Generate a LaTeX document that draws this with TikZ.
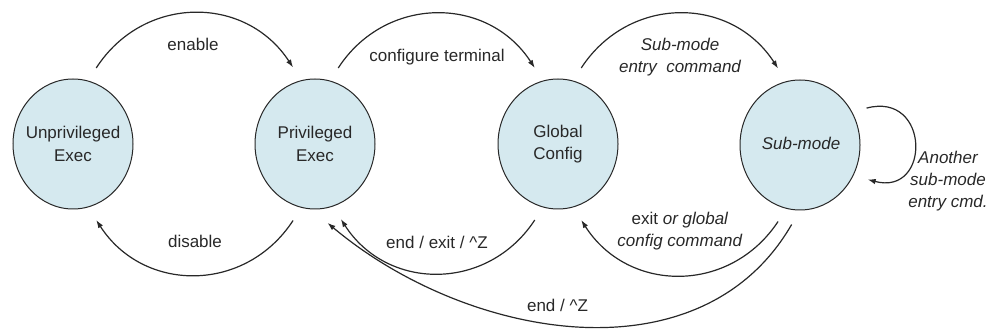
\documentclass[tikz,border=0pt]{standalone}
\usepackage{fontspec}
\setmainfont{Liberation Sans}
\usetikzlibrary{arrows.meta,shapes.geometric}
\definecolor{statefill}{RGB}{213,233,239}
\definecolor{ink}{RGB}{40,40,40}
\begin{document}
\begin{tikzpicture}[x=1pt,y=-1pt,
  state/.style={ellipse, draw=ink, line width=1pt, fill=statefill, minimum width=120pt, minimum height=130pt, inner sep=0pt, outer sep=15pt},
  stext/.style={align=center, font=\fontsize{17}{22.5}\selectfont, text=ink, inner sep=0pt},
  lbl/.style={align=center, font=\fontsize{17}{22}\selectfont, text=ink, inner sep=0pt},
  conn/.style={draw=ink, line width=1.2pt, -{Latex[length=8pt,width=5.5pt]}},
  shortarc/.style={bend left=57, looseness=1.13},
]
\useasboundingbox (0,0) rectangle (991,331);

% states
\node[state] (u) at (73,144) {};
\node[state] (p) at (315,144) {};
\node[state] (g) at (558,144) {};
\node[state] (s) at (800,145) {};
\node[stext] (ut) at (73,144) {Unprivileged\\Exec};
\node[stext] (pt) at (315,144) {Privileged\\Exec};
\node[stext] (gt) at (558,144) {Global\\Config};
\node[stext, font=\fontsize{17}{22.5}\selectfont\itshape] (st) at (801,143.5) {Sub-mode};

% connectors
\draw[conn] (u.73) to[shortarc] (p.106);
\draw[conn] (p.-106) to[shortarc] (u.-73);
\draw[conn] (p.73) to[shortarc] (g.107);
\draw[conn] (g.73) to[shortarc] (s.106);
\draw[conn] (s.-106) to[shortarc] (g.-73);
\draw[conn] (g.-107) to[shortarc] (p.-71);
\draw[conn] (s.-96) to[out=-120, in=-40, looseness=1] (p.-81);
\draw[conn] (s.29) to[out=15, in=-15, looseness=2.36] (s.-27);

% labels
\node[lbl] (l1) at (193,44.5) {enable};
\node[lbl] (l2) at (195,241.5) {disable};
\node[lbl] (l3) at (437,57) {configure terminal};
\node[lbl, font=\fontsize{17}{22}\selectfont\itshape] (l4) at (680,57) {Sub-mode\\entry\ \ command};
\node[lbl] (l5) at (437,242.5) {end / exit / \^{}Z};
\node[lbl] (l6) at (680,231.5) {exit \textit{or global}\\\textit{config command}};
\node[lbl] (l7) at (557.5,305) {end / \^{}Z};
\node[lbl, font=\fontsize{17}{22}\selectfont\itshape] (l8) at (948,181.5) {Another\\sub-mode\\entry cmd.};
\end{tikzpicture}
\end{document}
